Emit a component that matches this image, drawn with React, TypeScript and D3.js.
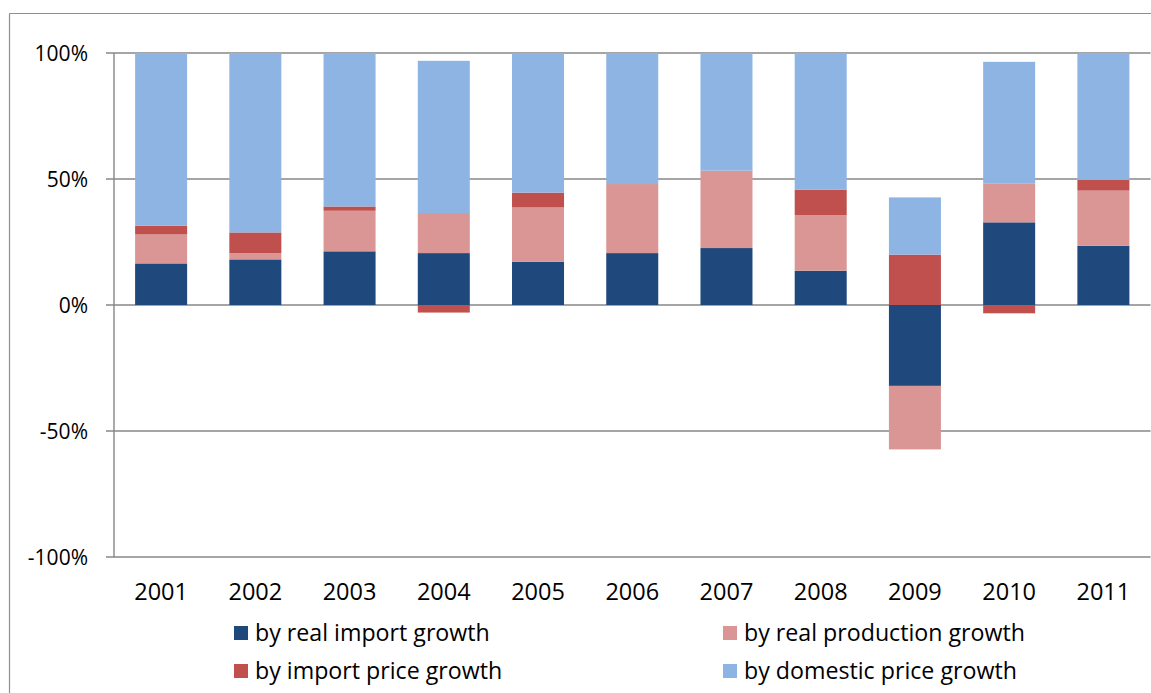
import React from "react";
import * as d3 from "d3";

const years = ["2001","2002","2003","2004","2005","2006","2007","2008","2009","2010","2011"];
const realImport = [16.5, 18.1, 21.3, 20.6, 17.2, 20.6, 22.6, 13.6, -32.1, 32.8, 23.5];
const realProduction = [11.5, 2.5, 16.1, 15.9, 21.5, 27.4, 30.7, 22.1, -25.2, 15.5, 21.9];
const importPrice = [3.5, 8.2, 1.7, -3.0, 5.9, 0, 0, 10.1, 20.0, -3.3, 4.2];
const domesticPrice = [68.5, 71.2, 60.9, 60.4, 55.4, 52.0, 46.7, 54.2, 22.7, 48.2, 50.4];
const yTicks = [-100, -50, 0, 50, 100];

const seriesNames = ["by real import growth", "by real production growth", "by import price growth", "by domestic price growth"];
const seriesColors = ["#1F497D", "#D99694", "#C0504D", "#8EB4E3"];
const seriesValues = [realImport, realProduction, importPrice, domesticPrice];

const W = 1151, H = 693;
const FONT = "'Open Sans', sans-serif";

export default function App() {
  const x = d3.scaleBand<string>().domain(years).range([114, 1150.5]).paddingInner(0.448).paddingOuter(0.224);
  const y = d3.scaleLinear().domain([-100, 100]).range([557, 53]);

  const rects: { x: number; y0: number; y1: number; color: string; key: string }[] = [];
  years.forEach((yr, i) => {
    let pos = 0, neg = 0;
    seriesValues.forEach((vals, s) => {
      const v = vals[i];
      if (v === 0) return;
      if (v > 0) {
        rects.push({ x: x(yr)!, y0: pos, y1: pos + v, color: seriesColors[s], key: `${yr}-${s}` });
        pos += v;
      } else {
        rects.push({ x: x(yr)!, y0: neg, y1: neg + v, color: seriesColors[s], key: `${yr}-${s}` });
        neg += v;
      }
    });
  });

  const legendPos = [
    { x: 234, y: 633 },
    { x: 723, y: 633 },
    { x: 234, y: 671 },
    { x: 723, y: 671 },
  ];

  return (
    <svg width={W} height={H} style={{ display: "block", position: "absolute", left: 0, top: 0 }}>
      <rect x={0} y={0} width={W} height={H} fill="#fff" />
      <line x1={9.5} y1={13.5} x2={W} y2={13.5} stroke="#8f8f8f" strokeWidth={1.2} />
      <line x1={9.5} y1={13.5} x2={9.5} y2={H} stroke="#8f8f8f" strokeWidth={1.2} />
      {yTicks.map((t) => (
        <g key={t}>
          <line x1={106} x2={1150.5} y1={y(t)} y2={y(t)} stroke="#878787" strokeWidth={1.4} />
          <text x={88} y={y(t)} dy="0.36em" textAnchor="end" fontFamily={FONT} fontSize={21} fill="#000">
            {`${t}%`}
          </text>
        </g>
      ))}
      <line x1={114} x2={114} y1={53} y2={557} stroke="#878787" strokeWidth={1.4} />
      {rects.map((r) => (
        <rect
          key={r.key}
          x={r.x}
          width={x.bandwidth()}
          y={Math.min(y(r.y0), y(r.y1))}
          height={Math.abs(y(r.y0) - y(r.y1))}
          fill={r.color}
        />
      ))}
      {years.map((yr) => (
        <text key={yr} x={x(yr)! + x.bandwidth() / 2} y={592} dy="0.36em" textAnchor="middle" fontFamily={FONT} fontSize={23.5} fill="#000">
          {yr}
        </text>
      ))}
      {seriesNames.map((n, i) => (
        <g key={n}>
          <rect x={legendPos[i].x} y={legendPos[i].y - 7} width={14} height={14} fill={seriesColors[i]} />
          <text x={legendPos[i].x + 21} y={legendPos[i].y} dy="0.36em" fontFamily={FONT} fontSize={23.2} fill="#000">
            {n}
          </text>
        </g>
      ))}
    </svg>
  );
}
